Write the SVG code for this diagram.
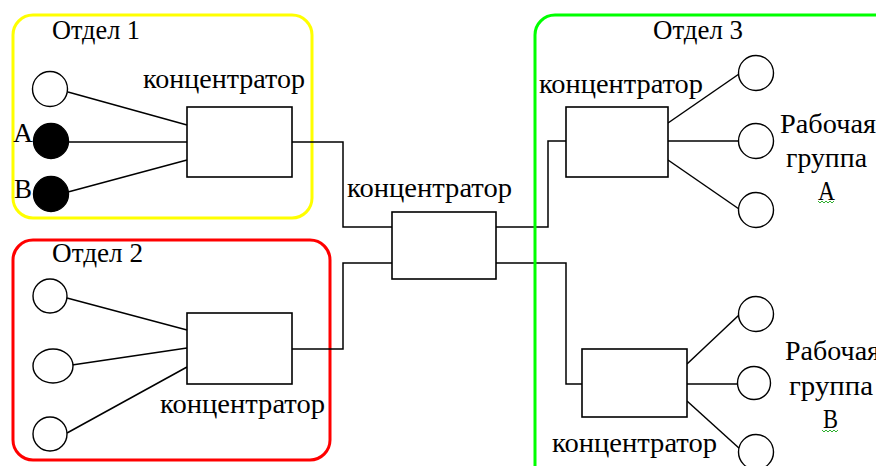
<svg xmlns="http://www.w3.org/2000/svg" width="876" height="466" viewBox="0 0 876 466">
  <style>
    .frame { fill: none; stroke-width: 3; }
    .hub { fill: #fff; stroke: #000; stroke-width: 1.6; }
    .pc { fill: #fff; stroke: #000; stroke-width: 1.4; }
    .pc-on { fill: #000; stroke: #000; stroke-width: 1.4; }
    .wire { fill: none; stroke: #000; stroke-width: 1.5; }
    text { font-family: "Liberation Serif", "Times New Roman", serif; font-size: 27px; fill: #000; }
    .squiggle { fill: none; stroke: #2fb02f; stroke-width: 1; }
  </style>
  <rect width="876" height="466" fill="#fff"/>

  <!-- department frames -->
  <g id="dept1">
    <rect class="frame" x="13" y="15" width="299" height="203" rx="20" stroke="#ffff00"/>
    <text x="52" y="39" textLength="88" lengthAdjust="spacingAndGlyphs">Отдел 1</text>
  </g>
  <g id="dept2">
    <rect class="frame" x="13" y="240" width="317" height="220" rx="20" stroke="#ff0000"/>
    <text x="52" y="262" textLength="91" lengthAdjust="spacingAndGlyphs">Отдел 2</text>
  </g>

  <!-- connectors -->
  <g id="connectors">
    <!-- department 1 stations -->
    <line class="wire" x1="68" y1="92" x2="187" y2="125"/>
    <line class="wire" x1="68" y1="142" x2="187" y2="142"/>
    <line class="wire" x1="68" y1="192" x2="187" y2="160"/>
    <!-- department 2 stations -->
    <line class="wire" x1="67" y1="298" x2="187" y2="330"/>
    <line class="wire" x1="72" y1="365" x2="187" y2="348"/>
    <line class="wire" x1="67" y1="433" x2="187" y2="367"/>
    <!-- hubs to central hub -->
    <polyline class="wire" points="292,142 343,142 343,227 392,227"/>
    <polyline class="wire" points="292,349 343,349 343,263 392,263"/>
    <polyline class="wire" points="496,227 548,227 548,141 566,141"/>
    <polyline class="wire" points="496,263 566,263 566,384 582,384"/>
    <!-- work group A -->
    <line class="wire" x1="668" y1="123" x2="739" y2="74"/>
    <line class="wire" x1="668" y1="141" x2="738" y2="141"/>
    <line class="wire" x1="668" y1="160" x2="739" y2="209"/>
    <!-- work group B -->
    <line class="wire" x1="687" y1="364" x2="739" y2="315"/>
    <line class="wire" x1="687" y1="384" x2="738" y2="384"/>
    <line class="wire" x1="687" y1="401" x2="740" y2="449"/>
  </g>

  <g id="dept3">
    <rect class="frame" x="535" y="15" width="360" height="480" rx="20" stroke="#00ff00"/>
    <text x="653" y="39" textLength="90" lengthAdjust="spacingAndGlyphs">Отдел 3</text>
  </g>

  <!-- hubs -->
  <g id="hub1">
    <rect class="hub" x="187" y="107" width="105" height="70"/>
    <text x="143" y="88" textLength="162" lengthAdjust="spacingAndGlyphs">концентратор</text>
  </g>
  <g id="hub2">
    <rect class="hub" x="187" y="313" width="105" height="71"/>
    <text x="160" y="413" textLength="165" lengthAdjust="spacingAndGlyphs">концентратор</text>
  </g>
  <g id="hub-central">
    <rect class="hub" x="392" y="212" width="104" height="67"/>
    <text x="347" y="197" textLength="165" lengthAdjust="spacingAndGlyphs">концентратор</text>
  </g>
  <g id="hub3">
    <rect class="hub" x="566" y="107" width="102" height="70"/>
    <text x="539" y="93" textLength="164" lengthAdjust="spacingAndGlyphs">концентратор</text>
  </g>
  <g id="hub4">
    <rect class="hub" x="582" y="349" width="105" height="68"/>
    <text x="552" y="452" textLength="165" lengthAdjust="spacingAndGlyphs">концентратор</text>
  </g>

  <!-- department 1 stations -->
  <g id="pc1-1"><circle class="pc" cx="50" cy="89" r="17.5"/></g>
  <g id="pc1-a">
    <text x="13" y="142" textLength="20" lengthAdjust="spacingAndGlyphs">A</text>
    <circle class="pc-on" cx="51" cy="141" r="17.5"/>
  </g>
  <g id="pc1-b">
    <text x="14" y="198" textLength="18" lengthAdjust="spacingAndGlyphs">B</text>
    <circle class="pc-on" cx="51" cy="194" r="17.5"/>
  </g>

  <!-- department 2 stations -->
  <g id="pc2-1"><circle class="pc" cx="50" cy="296" r="17"/></g>
  <g id="pc2-2"><ellipse class="pc" cx="53" cy="366" rx="20" ry="17"/></g>
  <g id="pc2-3"><circle class="pc" cx="50" cy="434" r="17"/></g>

  <!-- work group A -->
  <g id="pcA-1"><circle class="pc" cx="756" cy="73" r="17.5"/></g>
  <g id="pcA-2"><circle class="pc" cx="756" cy="141" r="17.5"/></g>
  <g id="pcA-3"><circle class="pc" cx="756" cy="210" r="17.5"/></g>
  <g id="groupA-label">
    <text x="780" y="133" textLength="96" lengthAdjust="spacingAndGlyphs">Рабочая</text>
    <text x="786" y="167" textLength="81" lengthAdjust="spacingAndGlyphs">группа</text>
    <text x="818" y="200" textLength="17" lengthAdjust="spacingAndGlyphs">А</text>
    <polyline class="squiggle" points="818,201 820,203 822,201 824,203 826,201 828,203 830,201 832,203 834,201"/>
  </g>

  <!-- work group B -->
  <g id="pcB-1"><circle class="pc" cx="756" cy="314" r="17.5"/></g>
  <g id="pcB-2"><circle class="pc" cx="754" cy="383" r="16.5"/></g>
  <g id="pcB-3"><circle class="pc" cx="756" cy="452" r="17.5"/></g>
  <g id="groupB-label">
    <text x="785" y="360" textLength="95" lengthAdjust="spacingAndGlyphs">Рабочая</text>
    <text x="789" y="395" textLength="84" lengthAdjust="spacingAndGlyphs">группа</text>
    <text x="823" y="428" textLength="15" lengthAdjust="spacingAndGlyphs">В</text>
    <polyline class="squiggle" points="822,430 824,432 826,430 828,432 830,430 832,432 834,430 836,432 838,430"/>
  </g>
</svg>
